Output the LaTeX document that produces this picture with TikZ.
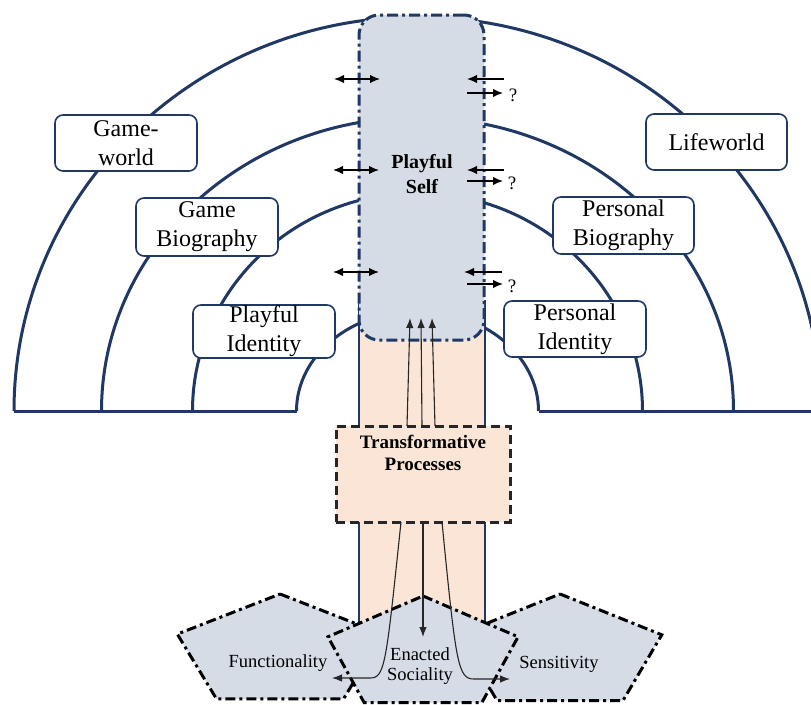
\documentclass[tikz,border=0pt]{standalone}
\usepackage{fontspec}
\setmainfont{Liberation Serif}
\usetikzlibrary{arrows.meta}
\definecolor{navy}{RGB}{31,56,100}
\definecolor{bluegray}{RGB}{214,220,229}
\definecolor{peach}{RGB}{251,229,214}
\begin{document}
\begin{tikzpicture}[x=1pt,y=1pt,
  mytip/.tip={Latex[length=10pt,width=8.5pt]},
  thintip/.tip={Latex[length=10pt,width=7.5pt]},
  arcline/.style={draw=navy,line width=3pt},
  labelbox/.style={draw=navy,line width=1.6pt,fill=white,rounded corners=8pt,minimum width=142pt,minimum height=56pt,inner sep=0pt,align=center,font=\fontsize{24}{29}\selectfont},
  dashdot/.style={dash pattern=on 10pt off 4pt on 3pt off 4pt},
  pent/.style={draw=black,fill=bluegray,line width=3pt,dashdot},
  pentlabel/.style={align=center,inner sep=0pt,font=\fontsize{18.5}{20}\selectfont},
  selfbox/.style={draw=navy,fill=bluegray,line width=3pt,dash pattern=on 11pt off 4pt on 3pt off 4pt,rounded corners=20pt,minimum width=125pt,minimum height=325pt,inner sep=0pt},
  procbox/.style={draw=black!85,fill=peach,line width=3pt,dash pattern=on 9pt off 5pt,minimum width=174pt,minimum height=96pt,inner sep=0pt},
  boldtext/.style={align=center,inner sep=0pt,font=\bfseries\fontsize{19}{22}\selectfont},
  sidearrow/.style={line width=1.5pt},
  flow/.style={line width=1.1pt,draw=black!85,-thintip},
  qmark/.style={inner sep=0pt,font=\fontsize{19}{20}\selectfont}
]
\useasboundingbox (0,0) rectangle (811,-704);
\clip (0,0) rectangle (811,-704);
\fill[white] (0,0) rectangle (811,-704);

% concentric arcs
\draw[arcline] (14,-411) arc[start angle=180,end angle=0,x radius=403.5,y radius=394];
\draw[arcline] (101.5,-411) arc[start angle=180,end angle=0,x radius=316,y radius=293.5];
\draw[arcline] (192.5,-411) arc[start angle=180,end angle=0,x radius=225,y radius=218];
\draw[arcline] (296.5,-411) arc[start angle=180,end angle=0,x radius=121,y radius=100];
\draw[arcline] (14,-411) -- (296.5,-411);
\draw[arcline] (538.5,-411) -- (830,-411);

% peach column
\fill[peach] (359,-300) rectangle (485,-640);
\draw[navy,line width=2.2pt] (359,-300) -- (359,-640);
\draw[navy,line width=2.2pt] (485,-300) -- (485,-640);

% playful self
\node[selfbox] (ps) at (421.5,-177.5) {};
\node[boldtext,font=\bfseries\fontsize{20}{25}\selectfont] (pstext) at (422,-174) {Playful\\Self};

% label boxes
\node[labelbox] (gw) at (126,-143) {Game-\\world};
\node[labelbox,minimum height=58pt] (gb) at (207,-227) {Game\\Biography};
\node[labelbox,minimum height=53pt] (pi) at (264,-331.5) {Playful\\Identity};
\node[labelbox,minimum width=141pt] (lw) at (716.5,-142) {Lifeworld};
\node[labelbox,minimum width=141pt,minimum height=57pt] (pb) at (623.5,-225.5) {Personal\\Biography};
\node[labelbox] (pid) at (575,-329) {Personal\\Identity};

% side arrows
\coordinate (la1) at (334,-79);  \coordinate (lb1) at (380,-79);
\coordinate (la2) at (333,-170); \coordinate (lb2) at (379,-170);
\coordinate (la3) at (333,-272); \coordinate (lb3) at (379,-272);
\draw[sidearrow,mytip-mytip] (la1) -- (lb1);
\draw[sidearrow,mytip-mytip] (la2) -- (lb2);
\draw[sidearrow,mytip-mytip] (la3) -- (lb3);

\coordinate (ra1) at (504,-79);  \coordinate (rb1) at (467,-79);
\coordinate (rc1) at (467,-93);  \coordinate (rd1) at (503,-93);
\coordinate (ra2) at (504,-170); \coordinate (rb2) at (467,-170);
\coordinate (rc2) at (467,-181); \coordinate (rd2) at (503,-181);
\coordinate (ra3) at (502,-272); \coordinate (rb3) at (464,-272);
\coordinate (rc3) at (467,-284); \coordinate (rd3) at (503,-284);
\draw[sidearrow,-mytip] (ra1) -- (rb1);
\draw[sidearrow,-mytip] (rc1) -- (rd1);
\draw[sidearrow,-mytip] (ra2) -- (rb2);
\draw[sidearrow,-mytip] (rc2) -- (rd2);
\draw[sidearrow,-mytip] (ra3) -- (rb3);
\draw[sidearrow,-mytip] (rc3) -- (rd3);
\node[qmark] (q1) at (513,-95) {?};
\node[qmark] (q2) at (512,-183) {?};
\node[qmark] (q3) at (512,-286) {?};

% transformative processes
\node[procbox] (tp) at (423,-474) {};
\node[boldtext] (tptext) at (423,-453) {Transformative\\Processes};

% up arrows
\coordinate (u1s) at (407,-426); \coordinate (u1e) at (410,-318);
\coordinate (u2s) at (422,-426); \coordinate (u2e) at (421,-318);
\coordinate (u3s) at (435,-426); \coordinate (u3e) at (432,-318);
\draw[flow] (u1s) -- (u1e);
\draw[flow] (u2s) -- (u2e);
\draw[flow] (u3s) -- (u3e);

% pentagons
\draw[pent] (280,-594) -- (382.7,-634.1) -- (343.5,-698.9) -- (216.5,-698.9) -- (177.3,-634.1) -- cycle;
\draw[pent] (560,-594) -- (661.8,-634.8) -- (622.9,-700.7) -- (497.1,-700.7) -- (458.2,-634.8) -- cycle;
\draw[pent] (423,-596) -- (518.1,-636.8) -- (481.8,-702.7) -- (364.2,-702.7) -- (327.9,-636.8) -- cycle;

\node[pentlabel] (fn) at (278,-663) {Functionality};
\node[pentlabel] (es) at (420,-666) {Enacted\\Sociality};
\node[pentlabel] (sn) at (559,-664) {Sensitivity};

% down arrows
\coordinate (d1s) at (401,-522); \coordinate (d1e) at (332,-678);
\coordinate (d2s) at (423,-522); \coordinate (d2e) at (423,-637);
\coordinate (d3s) at (442,-522); \coordinate (d3e) at (510,-679);
\draw[flow] (d1s) .. controls (386,-665) and (385,-678) .. (370,-678) -- (d1e);
\draw[flow] (d2s) -- (d2e);
\draw[flow] (d3s) .. controls (456,-665) and (458,-679) .. (474,-679) -- (d3e);
\end{tikzpicture}
\end{document}
